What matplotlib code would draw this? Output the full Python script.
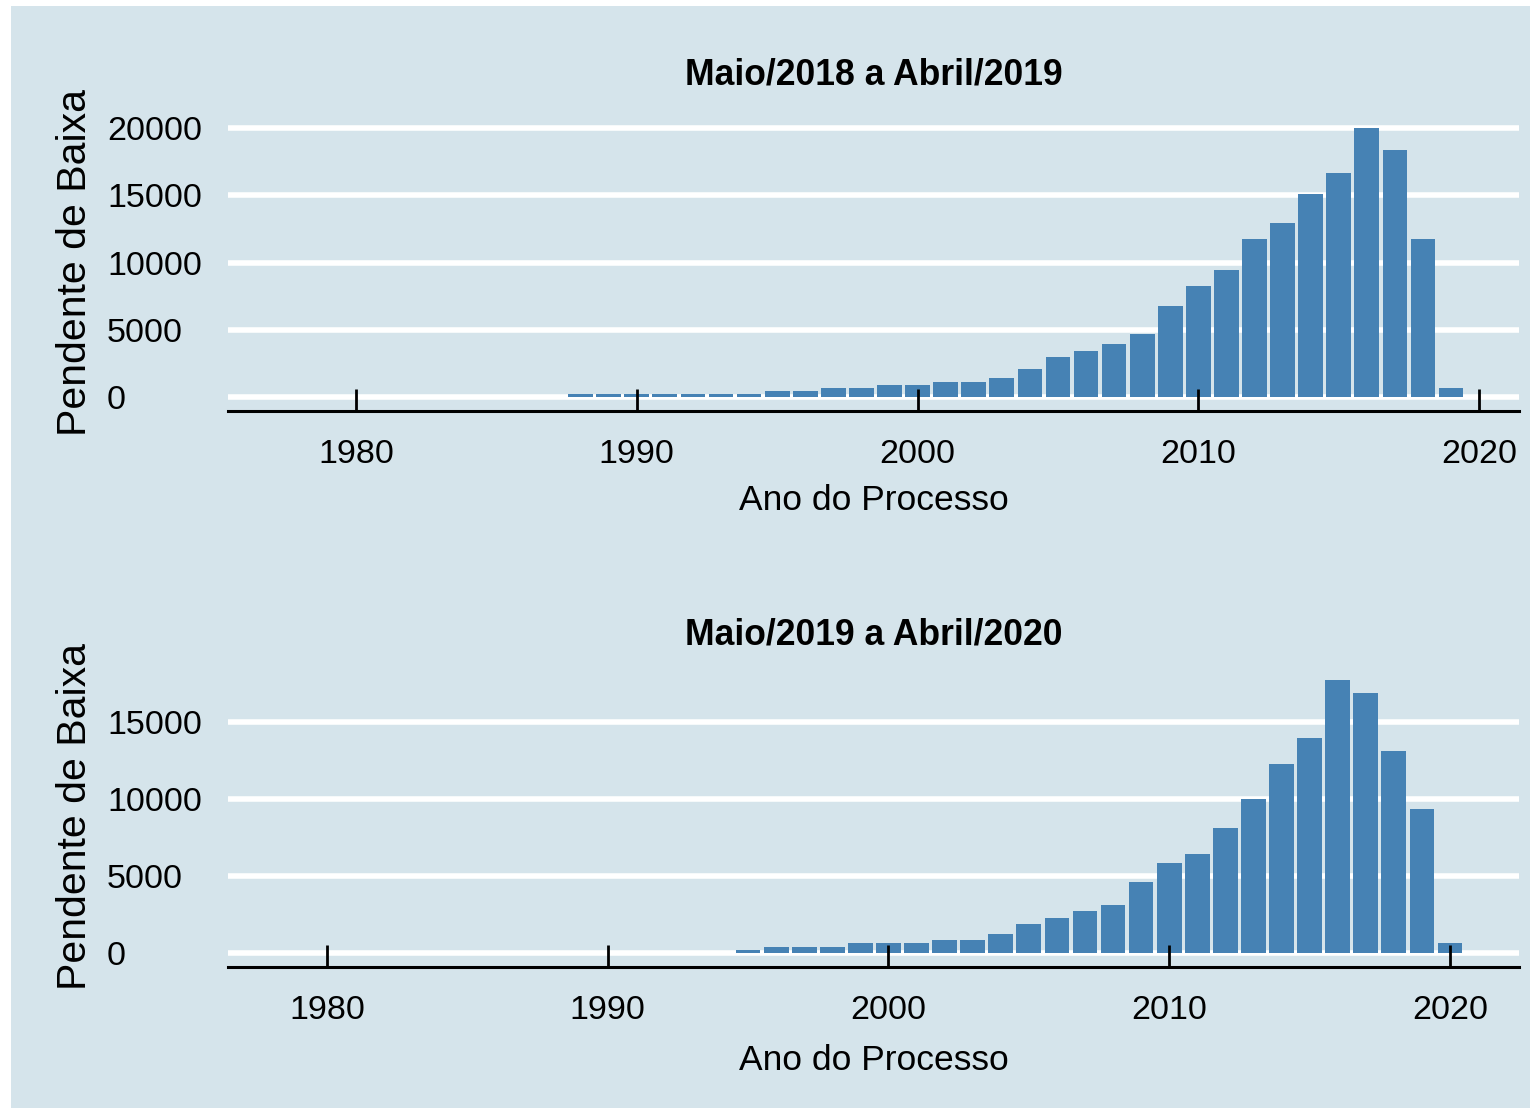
import matplotlib.pyplot as plt
import matplotlib.patches as mpatches
import numpy as np

# dados
anos_1819 = np.arange(1988, 2020)
pend_1819 = [270, 270, 270, 270, 270, 270, 270, 490, 490, 720, 720, 940, 940,
             1160, 1160, 1440, 2100, 3035, 3480, 3990, 4725, 6780, 8250, 9425,
             11775, 12950, 15080, 16700, 20000, 18380, 11775, 685]

anos_1920 = np.arange(1995, 2021)
pend_1920 = [195, 390, 390, 390, 650, 650, 650, 845, 845, 1234, 1883, 2273,
             2727, 3117, 4610, 5844, 6429, 8117, 10000, 12273, 13961, 17727,
             16883, 13117, 9351, 649]

titulos = ["Maio/2018 a Abril/2019", "Maio/2019 a Abril/2020"]
xticks = [1980, 1990, 2000, 2010, 2020]

bg = '#d5e4eb'
azul = '#4682b4'
fs = 24.5

plt.rcParams['font.family'] = ['Liberation Sans', 'DejaVu Sans']

fig = plt.figure(figsize=(15.39, 11.11), dpi=100)
fig.patch.set_facecolor('white')
fundo = mpatches.Rectangle((11 / 1539, 1 - 1108 / 1111), 1519 / 1539, 1102 / 1111,
                           transform=fig.transFigure, facecolor=bg,
                           edgecolor='none', zorder=-10)
fig.patches.append(fundo)

ax1 = fig.add_axes([0.1481, 0.6302, 0.8389, 0.2666])
ax2 = fig.add_axes([0.1481, 0.1300, 0.8389, 0.2702])

config = [
    (ax1, anos_1819, pend_1819, titulos[0], (1975.44, 2021.42), (-1000, 21000),
     [0, 5000, 10000, 15000, 20000], 22, 10),
    (ax2, anos_1920, pend_1920, titulos[1], (1976.47, 2022.46), (-886, 18613),
     [0, 5000, 10000, 15000], 16, 13),
]

for ax, x, y, tit, xl, yl, yt, tpad, lpad in config:
    ax.set_facecolor(bg)
    for v in yt:
        ax.axhline(v, color='white', lw=4.0, zorder=1)
    ax.bar(x, y, width=0.88, color=azul, zorder=2)
    ax.set_xlim(*xl)
    ax.set_ylim(*yl)
    ax.set_yticks(yt)
    ax.set_yticklabels([str(v) for v in yt], ha='left')
    ax.set_xticks(xticks)
    ax.grid(False)
    ax.set_axisbelow(False)
    for s in ['top', 'right', 'left']:
        ax.spines[s].set_visible(False)
    ax.spines['bottom'].set_color('black')
    ax.spines['bottom'].set_linewidth(2.2)
    ax.tick_params(axis='x', direction='in', length=16, width=2.0, color='black',
                   labelsize=fs, pad=20.5)
    ax.tick_params(axis='y', length=0, labelsize=fs, pad=87)
    ax.set_title(tit, fontsize=25.6, fontweight='bold', pad=tpad)
    ax.set_xlabel("Ano do Processo", fontsize=25.5, labelpad=lpad)
    ax.set_ylabel("Pendente de Baixa", fontsize=29.5, va='center')
    ax.yaxis.set_label_coords(-0.1185, 0.5)

plt.savefig("out.png", dpi=100, facecolor=fig.get_facecolor())
plt.close()
